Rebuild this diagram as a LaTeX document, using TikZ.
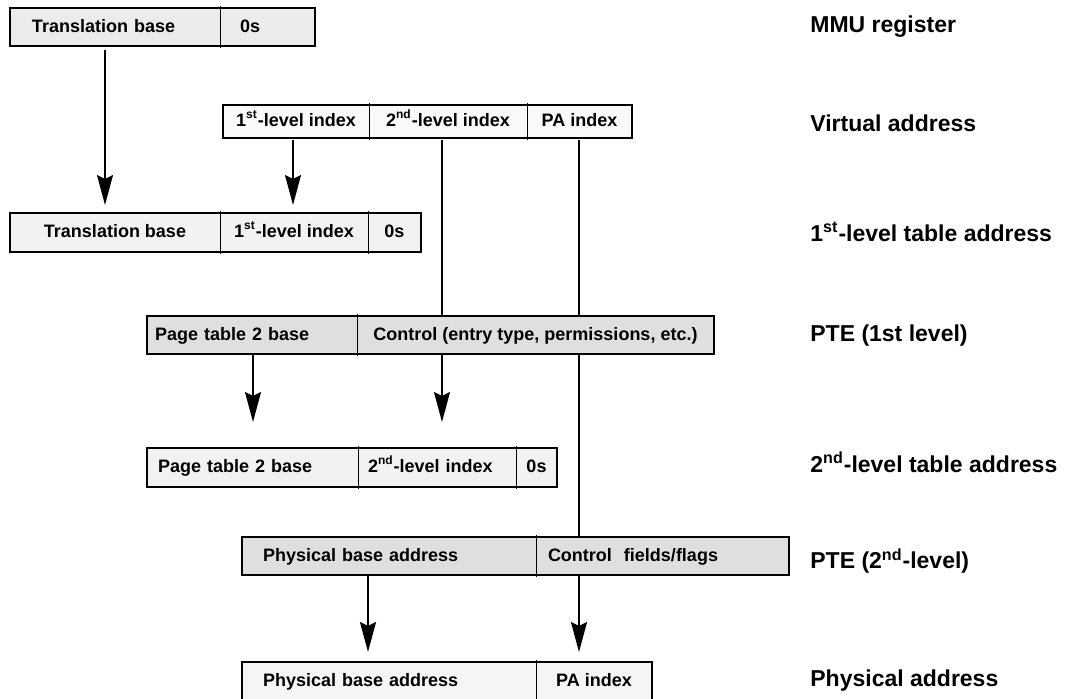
\documentclass[tikz,border=0pt]{standalone}
\usepackage{fontspec}
\setmainfont{Liberation Sans}
\usetikzlibrary{arrows.meta}

\newcommand{\cellfont}{\fontsize{9}{10}\selectfont\bfseries}
\newcommand{\tagfont}{\fontsize{11.5}{13}\selectfont\bfseries}

\tikzset{
    cell/.style={inner sep=0pt, outer sep=0pt, anchor=north west,
        minimum height=19pt, text height=7pt, text depth=2pt, font=\cellfont},
    lcell/.style 2 args={cell, inner xsep=#1, text width=#2, align=left},
    light/.style={fill=gray!10},
    dark/.style={fill=gray!25},
    frame/.style={line width=1.1pt},
    divider/.style={line width=0.5pt},
    link/.style={line width=0.9pt},
    arr/.style={link, -{Stealth[length=15pt, width=8pt, inset=2pt]}},
    tag/.style={anchor=west, inner xsep=0pt, font=\tagfont}
}

\begin{document}
\begin{tikzpicture}[x=0.5pt, y=-0.5pt]
    \useasboundingbox (0,0) rectangle (1078,698);

    % x positions of the connectors
    \coordinate (x1) at (105,0);
    \coordinate (x2) at (293,0);
    \coordinate (x3) at (442,0);
    \coordinate (x4) at (579,0);
    \coordinate (x5) at (253,0);
    \coordinate (x6) at (368,0);

    % MMU register
    \node[lcell={11pt}{83pt}, fill=gray!15] (mmu-base) at (10,8) {Translation base};
    \node[lcell={10pt}{27.5pt}, fill=gray!15] (mmu-zero) at (mmu-base.north east) {0s};
    \draw[frame] (mmu-base.north west) rectangle (mmu-zero.south east);
    \draw[divider] ([yshift=1pt]mmu-base.north east) -- ([yshift=-1pt]mmu-base.south east);

    % virtual address
    \node[cell, minimum height=16.5pt, minimum width=73pt, fill=gray!5] (va-first) at (223,105)
        {1\textsuperscript{st}-level index};
    \node[cell, minimum height=16.5pt, minimum width=79pt, fill=gray!5] (va-second) at (va-first.north east)
        {2\textsuperscript{nd}-level index};
    \node[cell, minimum height=16.5pt, minimum width=52.5pt, fill=gray!5] (va-pa) at (va-second.north east)
        {PA index};
    \draw[frame] (va-first.north west) rectangle (va-pa.south east);
    \foreach \c in {va-first, va-second}
        \draw[divider] ([yshift=1pt]\c.north east) -- ([yshift=-1pt]\c.south east);

    % 1st-level table address
    \node[cell, light, minimum height=19.5pt, minimum width=105pt] (tla-base) at (10,213) {Translation base};
    \node[cell, light, minimum height=19.5pt, minimum width=74pt] (tla-index) at (tla-base.north east)
        {1\textsuperscript{st}-level index};
    \node[cell, light, minimum height=19.5pt, minimum width=26.5pt] (tla-zero) at (tla-index.north east) {0s};
    \draw[frame] (tla-base.north west) rectangle (tla-zero.south east);
    \foreach \c in {tla-base, tla-index}
        \draw[divider] ([yshift=1pt]\c.north east) -- ([yshift=-1pt]\c.south east);

    % PTE, 1st level
    \node[lcell={4pt}{97pt}, dark] (pte1-base) at (147,316) {Page table 2 base};
    \node[cell, dark, minimum width=178.5pt] (pte1-ctrl) at (pte1-base.north east)
        {Control (entry type, permissions, etc.)};
    \draw[frame] (pte1-base.north west) rectangle (pte1-ctrl.south east);
    \draw[divider] ([yshift=1pt]pte1-base.north east) -- ([yshift=-1pt]pte1-base.south east);

    % 2nd-level table address
    \node[lcell={5.5pt}{94.5pt}, light, minimum height=19.5pt] (sla-base) at (147,448) {Page table 2 base};
    \node[lcell={5pt}{69pt}, light, minimum height=19.5pt] (sla-index) at (sla-base.north east)
        {2\textsuperscript{nd}-level index};
    \node[cell, light, minimum height=19.5pt, minimum width=20.5pt] (sla-zero) at (sla-index.north east) {0s};
    \draw[frame] (sla-base.north west) rectangle (sla-zero.south east);
    \foreach \c in {sla-base, sla-index}
        \draw[divider] ([yshift=1pt]\c.north east) -- ([yshift=-1pt]\c.south east);

    % PTE, 2nd level
    \node[lcell={10.5pt}{126pt}, dark] (pte2-base) at (242,537) {Physical base address};
    \node[lcell={6pt}{114.5pt}, dark] (pte2-ctrl) at (pte2-base.north east) {Control\ \ fields/flags};
    \draw[frame] (pte2-base.north west) rectangle (pte2-ctrl.south east);
    \draw[divider] ([yshift=1pt]pte2-base.north east) -- ([yshift=-1pt]pte2-base.south east);

    % physical address
    \node[lcell={10.5pt}{126pt}, fill=gray!8] (pa-base) at (242,662) {Physical base address};
    \node[cell, fill=gray!8, minimum width=58pt] (pa-index) at (pa-base.north east) {PA index};
    \draw[frame] (pa-base.north west) rectangle (pa-index.south east);
    \draw[divider] ([yshift=1pt]pa-base.north east) -- ([yshift=-1pt]pa-base.south east);

    % connectors
    \draw[arr, shorten <=2pt, shorten >=4pt] (mmu-base.south -| x1) -- (tla-base.north -| x1);
    \draw[arr, shorten <=1pt, shorten >=4pt] (va-first.south -| x2) -- (tla-index.north -| x2);
    \draw[link, shorten <=1pt] (va-second.south -| x3) -- (pte1-ctrl.north -| x3);
    \draw[link, shorten <=1pt] (va-pa.south -| x4) -- (pte1-ctrl.north -| x4);
    \draw[link] (pte1-ctrl.south -| x4) -- (pte2-ctrl.north -| x4);
    \draw[arr, shorten >=13pt] (pte1-ctrl.south -| x3) -- (sla-index.north -| x3);
    \draw[arr, shorten >=13pt] (pte1-base.south -| x5) -- (sla-base.north -| x5);
    \draw[arr, shorten >=5pt] (pte2-base.south -| x6) -- (pa-base.north -| x6);
    \draw[arr, shorten >=5pt] (pte2-ctrl.south -| x4) -- (pa-index.north -| x4);

    % row names
    \node[tag] (tag-mmu) at (810,27) {MMU register};
    \node[tag] (tag-va) at (810,123) {Virtual address};
    \node[tag] (tag-tla) at (810,232) {1\textsuperscript{st}-level table address};
    \node[tag] (tag-pte1) at (810,336) {PTE (1st level)};
    \node[tag] (tag-sla) at (810,462) {2\textsuperscript{nd}-level table address};
    \node[tag] (tag-pte2) at (810,561) {PTE (2\textsuperscript{nd}-level)};
    \node[tag] (tag-pa) at (810,681) {Physical address};
\end{tikzpicture}
\end{document}
